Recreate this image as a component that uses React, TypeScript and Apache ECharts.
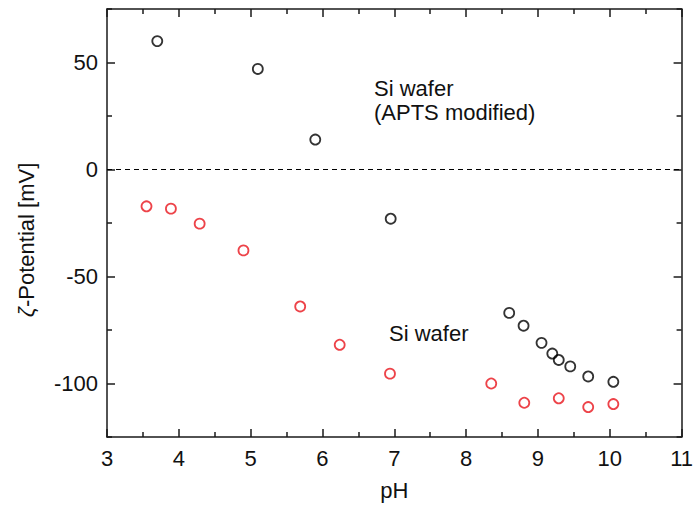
import React, { useEffect, useRef } from "react";
import * as echarts from "echarts";

const aptsPH = [3.7, 5.1, 5.9, 6.95, 8.6, 8.8, 9.05, 9.2, 9.29, 9.45, 9.7, 10.05];
const aptsZeta = [60, 47, 14, -23, -67, -73, -81, -86, -89, -92, -96.7, -99.2];
const siPH = [3.55, 3.89, 4.29, 4.9, 5.69, 6.24, 6.94, 8.35, 8.81, 9.29, 9.7, 10.05];
const siZeta = [-17.2, -18.3, -25.3, -37.8, -64, -81.9, -95.4, -100, -109, -106.9, -111, -109.6];

const xTicks = { min: 3, max: 11, interval: 1 };
const yRange = { min: -125, max: 75 };
const yLabelStep = 50;

const FONT = "'Liberation Sans', Arial, sans-serif";
const AXIS_COLOR = "#1a1a1a";
const FS = 22;

function axisLine() {
  return { show: true, onZero: false, lineStyle: { color: AXIS_COLOR, width: 1.5 } };
}
function tick(length: number) {
  return { show: true, inside: true, length, lineStyle: { color: AXIS_COLOR, width: 1.5 } };
}
function minor(length: number) {
  return { show: true, splitNumber: 2, length, lineStyle: { color: AXIS_COLOR, width: 1.5 } };
}

export default function App() {
  const ref = useRef<HTMLDivElement>(null);
  useEffect(() => {
    document.body.style.margin = "0";
    const chart = echarts.init(ref.current!, null, { renderer: "svg" });

    const yLabelAxis = (pos: string) => ({
      type: "value",
      min: yRange.min,
      max: yRange.max,
      interval: 25,
      position: pos,
      axisLine: axisLine(),
      axisTick: { show: false },
      splitLine: { show: false },
      axisLabel:
        pos === "left"
          ? {
              color: "#111",
              fontSize: FS,
              fontFamily: FONT,
              margin: 9,
              formatter: (v: number) => (v % yLabelStep === 0 ? String(v) : ""),
            }
          : { show: false },
    });
    // interval 50 counted from -125: short ticks at -125,-75,-25,25,75; minor (long) at -100,-50,0,50
    const yTickAxis = (pos: string) => ({
      type: "value",
      min: yRange.min,
      max: yRange.max,
      interval: 50,
      position: pos,
      offset: 0,
      axisLine: { show: false, onZero: false },
      axisTick: tick(5),
      minorTick: minor(8),
      splitLine: { show: false },
      minorSplitLine: { show: false },
      axisLabel: { show: false },
    });

    chart.setOption({
      animation: false,
      backgroundColor: "#ffffff",
      grid: { left: 107, right: 13, top: 9, bottom: 74 },
      xAxis: [
        {
          type: "value",
          min: xTicks.min,
          max: xTicks.max,
          interval: xTicks.interval,
          position: "bottom",
          axisLine: axisLine(),
          axisTick: tick(8),
          minorTick: minor(5),
          splitLine: { show: false },
          minorSplitLine: { show: false },
          axisLabel: { color: "#111", fontSize: FS, fontFamily: FONT, margin: 10 },
          name: "pH",
          nameLocation: "middle",
          nameGap: 42,
          nameTextStyle: { color: "#111", fontSize: FS, fontFamily: FONT },
        },
        {
          type: "value",
          min: xTicks.min,
          max: xTicks.max,
          interval: xTicks.interval,
          position: "top",
          axisLine: axisLine(),
          axisTick: tick(8),
          minorTick: minor(5),
          splitLine: { show: false },
          minorSplitLine: { show: false },
          axisLabel: { show: false },
        },
      ],
      yAxis: [yLabelAxis("left"), yTickAxis("left"), yLabelAxis("right"), yTickAxis("right")],
      series: [
        {
          type: "scatter",
          name: "Si wafer (APTS modified)",
          data: aptsPH.map((x, i) => [x, aptsZeta[i]]),
          symbol: "circle",
          symbolSize: 10,
          itemStyle: { color: "transparent", borderColor: "#000", borderWidth: 1.8 },
          markLine: {
            silent: true,
            symbol: "none",
            label: { show: false },
            lineStyle: { color: "#000", width: 1, type: [5, 4] },
            data: [{ yAxis: 0 }],
          },
        },
        {
          type: "scatter",
          name: "Si wafer",
          data: siPH.map((x, i) => [x, siZeta[i]]),
          symbol: "circle",
          symbolSize: 10,
          itemStyle: { color: "transparent", borderColor: "#e8141c", borderWidth: 1.8 },
        },
      ],
      graphic: [
        {
          type: "text",
          x: 26,
          y: 240,
          rotation: Math.PI / 2,
          style: {
            text: "{z|ζ}-Potential [mV]",
            fontSize: FS,
            fontFamily: FONT,
            fill: "#111",
            align: "center",
            verticalAlign: "middle",
            rich: { z: { fontStyle: "italic", fontSize: FS, fontFamily: FONT, fill: "#111" } },
          },
        },
        {
          type: "text",
          left: 374,
          top: 76,
          style: { text: "Si wafer\n(APTS modified)", fontSize: FS, fontFamily: FONT, fill: "#111", lineHeight: 24 },
        },
        {
          type: "text",
          left: 389,
          top: 322,
          style: { text: "Si wafer", fontSize: FS, fontFamily: FONT, fill: "#111" },
        },
      ],
    });
    return () => chart.dispose();
  }, []);
  return <div ref={ref} style={{ width: 696, height: 511 }} />;
}
